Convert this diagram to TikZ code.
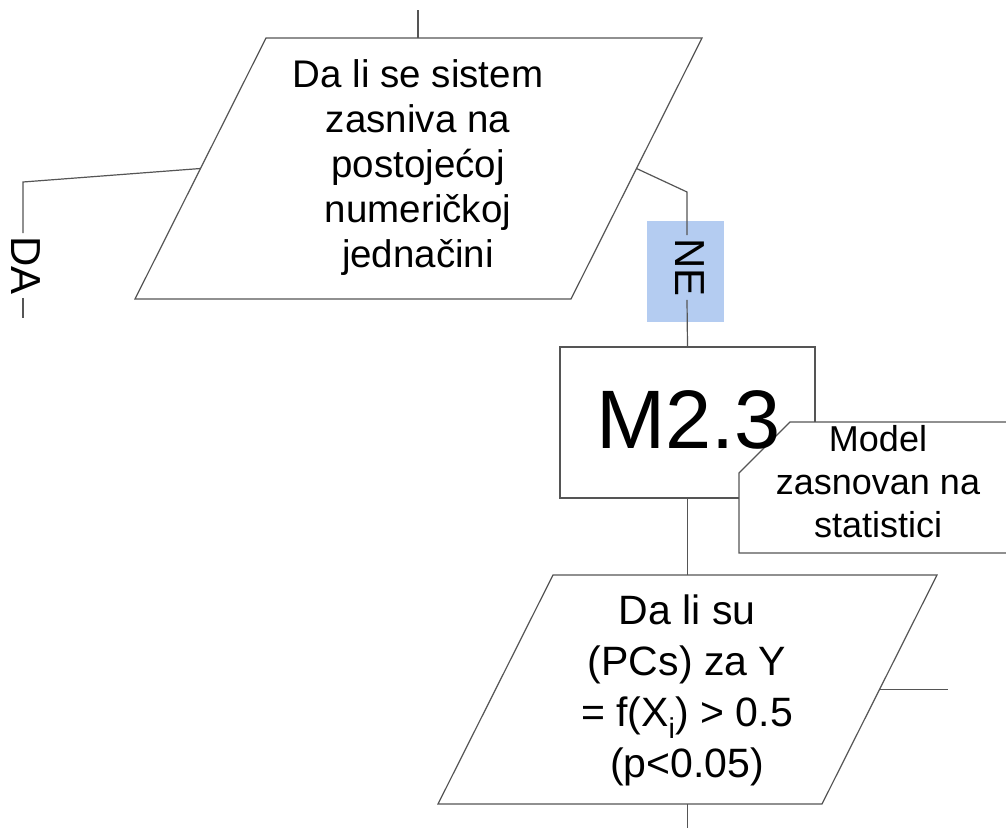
\documentclass[tikz,border=0pt]{standalone}
\usepackage{fontspec}
\setmainfont{Liberation Sans}
\definecolor{edge}{RGB}{85,85,85}
\definecolor{labelblue}{RGB}{180,204,241}
\tikzset{
  shapeline/.style={draw=edge, line width=1.2pt, fill=white, line join=miter},
  conn/.style={draw=edge, line width=1.2pt},
  txt/.style={align=center, inner sep=0pt, text=black},
  % branch labels run downwards along their connectors
  vlabel/.style={rotate=-90, inner sep=3pt, text=black, font=\fontsize{42}{50}\selectfont},
}
\begin{document}
\begin{tikzpicture}[x=1pt,y=-1pt]
\useasboundingbox (0,0) rectangle (1006,827);
\clip (0,0) rectangle (1006,827);
\fill[white] (0,0) rectangle (1006,827);

% highlight behind the "NE" branch label
\node[fill=labelblue, minimum width=77, minimum height=101, inner sep=0pt] (nebg) at (685.5,271.5) {};

% first decision: parallelogram
\coordinate (q1tl) at (266,38);
\coordinate (q1tr) at (702,38);
\coordinate (q1br) at (571,299);
\coordinate (q1bl) at (135,299);
\coordinate (q1top) at (418,38);
\coordinate (q1left) at (200.5,168.5);
\coordinate (q1right) at (636.5,168.5);
\draw[shapeline] (q1tl) -- (q1tr) -- (q1br) -- (q1bl) -- cycle;

% process box M2.3
\node[shapeline, minimum width=255, minimum height=151, inner sep=0pt] (m23) at (687.5,422.5) {};

% second decision: parallelogram
\coordinate (q2tl) at (553,575);
\coordinate (q2tr) at (937,575);
\coordinate (q2br) at (822,804);
\coordinate (q2bl) at (438,804);
\coordinate (q2top) at (687.5,575);
\coordinate (q2bot) at (687.5,804);
\coordinate (q2right) at (879.5,689.5);
\draw[shapeline] (q2tl) -- (q2tr) -- (q2br) -- (q2bl) -- cycle;

% branch labels
\node[vlabel] (da) at (26,265.5) {DA};
\node[vlabel] (ne) at (689.5,267.5) {NE};

% free ends and bends of the connectors
\coordinate (intop) at (418,10);
\coordinate (daknee) at (23,182);
\coordinate (daend) at (23,318);
\coordinate (neknee) at (687,192);
\coordinate (q2tail) at (687.5,830);
\coordinate (q2out) at (948,689.5);

\draw[conn] (intop) -- (q1top);
\draw[conn] (q1left) -- (daknee) -- (daknee |- da.west);
\draw[conn] (daknee |- da.east) -- (daend);
\draw[conn] (q1right) -- (neknee) -- (neknee |- ne.west);
\draw[conn] (neknee |- ne.east) -- (m23.north);
\draw[conn] (m23.south) -- (q2top);
\draw[conn] (q2bot) -- (q2tail);
\draw[conn] (q2right) -- (q2out);

% annotation box with a cut corner
\coordinate (an1) at (790,422);
\coordinate (an2) at (1017,422);
\coordinate (an3) at (1017,553);
\coordinate (an4) at (739,553);
\coordinate (an5) at (739,473);
\draw[shapeline] (an1) -- (an2) -- (an3) -- (an4) -- (an5) -- cycle;

% texts
\node[txt, font=\fontsize{38.5}{45}\selectfont] (q1text) at (418,167.4)
  {Da li se sistem\\zasniva na\\postojećoj\\numeričkoj\\jednačini};
\node[txt, font=\fontsize{41}{51}\selectfont] (q2text) at (687,690.2)
  {Da li su\\(PCs) za Y\\= f(X\textsubscript{i}) > 0.5\\(p<0.05)};
\node[txt, font=\fontsize{36}{43}\selectfont] (antext) at (878,482.1)
  {Model\\zasnovan na\\statistici};
\node[txt, anchor=base, font=\fontsize{83}{90}\selectfont] (m23text) at (688.5,448) {M2.3};
\end{tikzpicture}
\end{document}
